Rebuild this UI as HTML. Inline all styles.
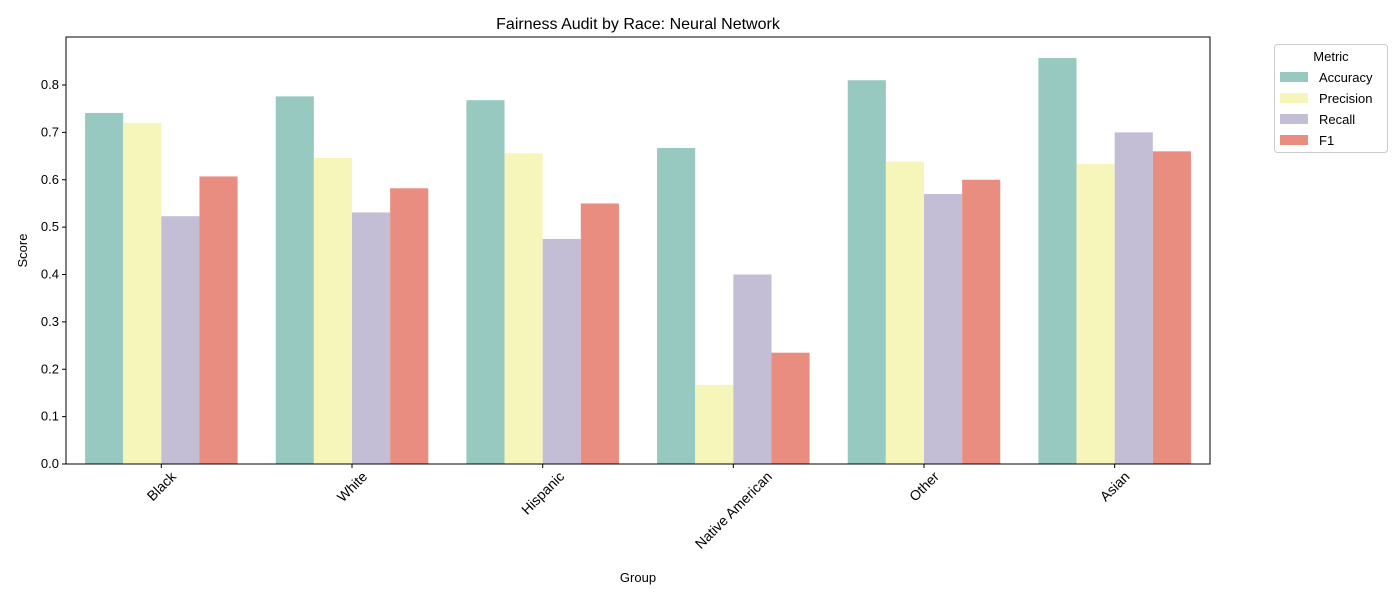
<!DOCTYPE html>
<html><head><meta charset="utf-8"><style>
body{margin:0;background:#fff;}
text{font-family:"Liberation Sans","DejaVu Sans",sans-serif;fill:#000;}
</style></head><body>
<svg id="chart" width="1400" height="600"></svg>
<script>
const groups=["Black","White","Hispanic","Native American","Other","Asian"];
const metrics=["Accuracy","Precision","Recall","F1"];
const accuracy=[0.741,0.776,0.768,0.667,0.810,0.857];
const precision=[0.720,0.646,0.656,0.167,0.638,0.633];
const recall=[0.523,0.531,0.475,0.400,0.570,0.700];
const f1=[0.607,0.582,0.550,0.235,0.600,0.660];
const yTicks=[0,0.1,0.2,0.3,0.4,0.5,0.6,0.7,0.8];
const series=[accuracy,precision,recall,f1];
const colors=["#98c9c0","#f6f6bb","#c3bed6","#e98d81"];
const NS="http://www.w3.org/2000/svg";
const svg=document.getElementById('chart');
const L=66,R=1210,T=37,B=464;
const yMax=(B-T)/473.75;
const y=v=>B-v/yMax*(B-T);
const gw=(R-L)/groups.length;
const bw=gw*0.8/metrics.length;
const x=(g,m)=>L+gw*g+gw*0.1+bw*m;
function mk(tag,attrs,parent){const e=document.createElementNS(NS,tag);for(const k in attrs)e.setAttribute(k,attrs[k]);(parent||svg).appendChild(e);return e;}
function txt(s,attrs){const e=mk('text',attrs);e.textContent=s;return e;}
let t=txt("Fairness Audit by Race: Neural Network",{x:(L+R)/2,y:29,'text-anchor':'middle','font-size':16});


series.forEach((arr,m)=>arr.forEach((v,g)=>{
  const r=mk('rect',{x:x(g,m),y:y(v),width:bw,height:B-y(v),fill:colors[m]});
  
  
}));
const ax=mk('rect',{x:L,y:T,width:R-L,height:B-T,fill:'none',stroke:'#000','stroke-width':1});


yTicks.forEach(v=>{
  mk('line',{x1:L-4,x2:L,y1:y(v),y2:y(v),stroke:'#000'});
  const tt=txt(v.toFixed(1),{x:L-7,y:y(v)+4,'text-anchor':'end','font-size':13});
  
  
});
groups.forEach((gname,g)=>{
  const cx=L+gw*(g+0.5);
  mk('line',{x1:cx,x2:cx,y1:B,y2:B+4,stroke:'#000'});
  const tt=txt(gname,{x:0,y:0,'text-anchor':'middle','font-size':14});
  const w=tt.getComputedTextLength();
  const half=(w*0.7071+14*0.7071)/2;
  const cy=B+5+half;
  tt.setAttribute('x',cx);
  tt.setAttribute('y',cy+5);
  tt.setAttribute('transform',`rotate(-45 ${cx} ${cy})`);
  
  
});
t=txt("Group",{x:(L+R)/2,y:582,'text-anchor':'middle','font-size':13});


t=txt("Score",{x:27,y:(T+B)/2,'text-anchor':'middle','font-size':13,transform:`rotate(-90 27 ${(T+B)/2})`});


const lg=mk('rect',{x:1274.5,y:44.5,width:113,height:108,rx:3,fill:'#fff',stroke:'#ccc'});


t=txt("Metric",{x:1331,y:61,'text-anchor':'middle','font-size':13});


metrics.forEach((m,i)=>{
  const yy=77+i*21;
  const p=mk('rect',{x:1280,y:yy-5,width:28,height:10,fill:colors[i]});
  
  
  const e=txt(m,{x:1319,y:yy+5,'font-size':13});
  
  
});
</script>
</body></html>
